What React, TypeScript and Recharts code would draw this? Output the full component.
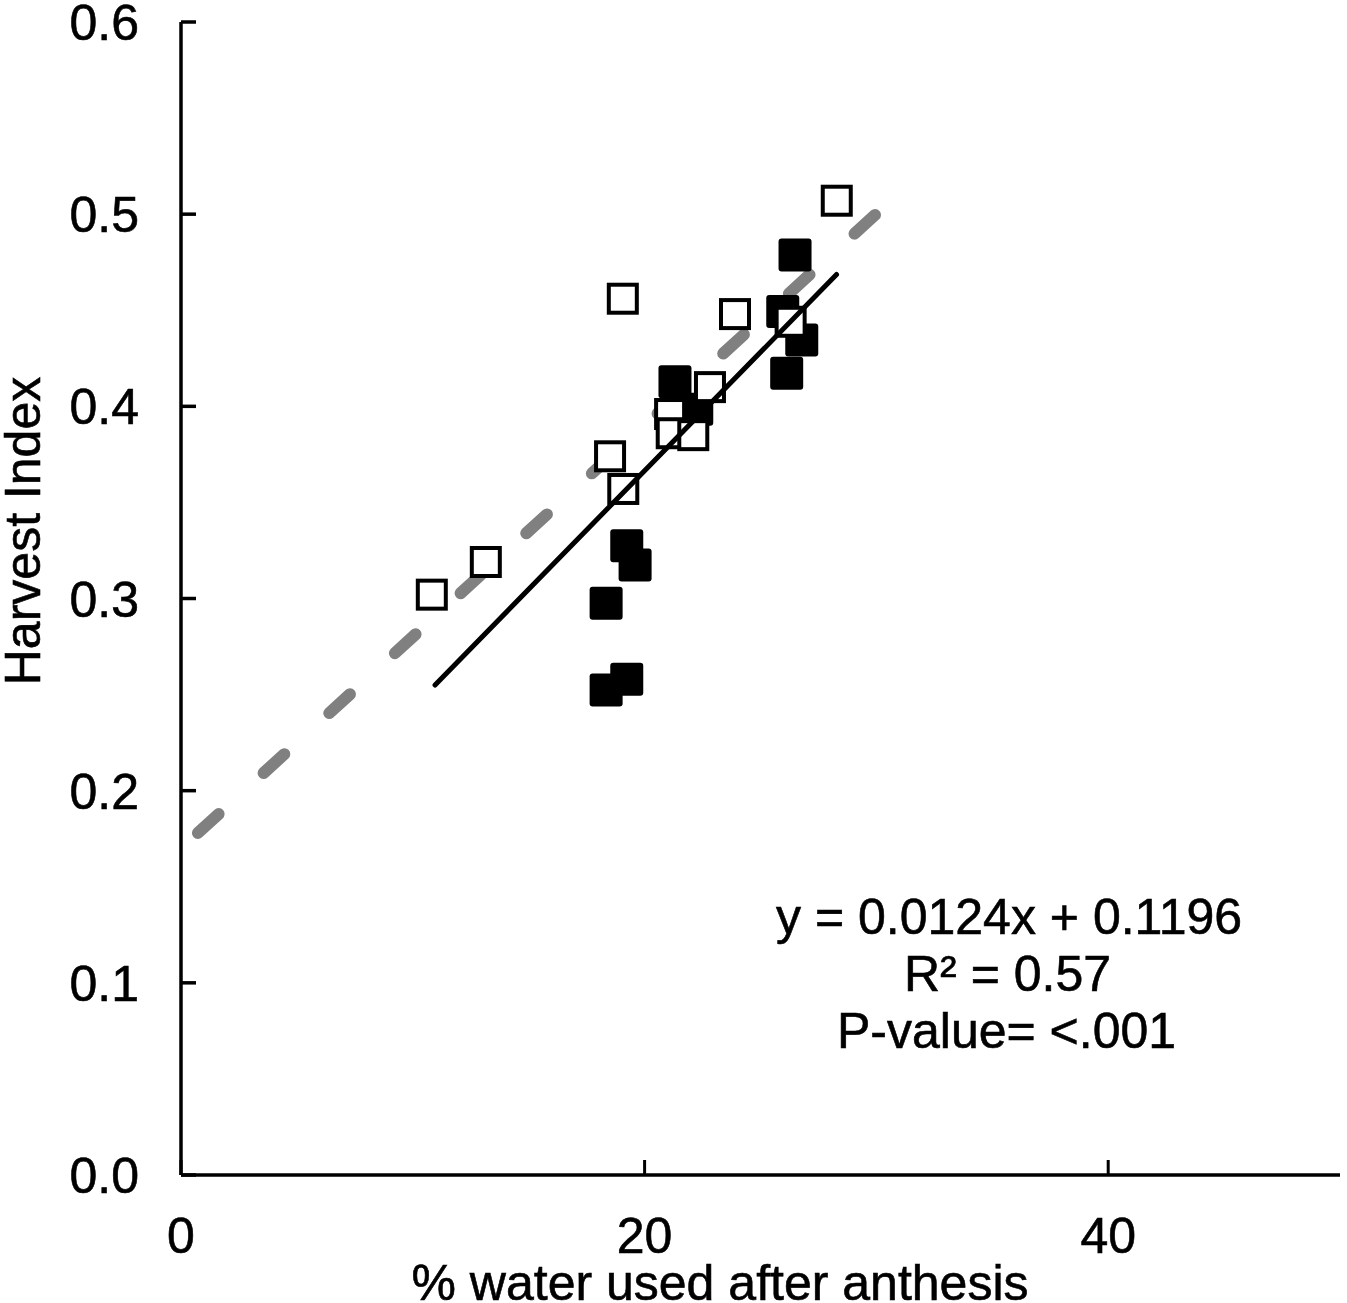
import React from 'react';
import { Scatter, ScatterChart, XAxis, YAxis } from 'recharts';

// open squares
const openPoints = [
  { x: 10.82, y: 0.302 },
  { x: 13.15, y: 0.319 },
  { x: 18.51, y: 0.374 },
  { x: 19.08, y: 0.357 },
  { x: 19.06, y: 0.456 },
  { x: 21.1, y: 0.396 },
  { x: 21.17, y: 0.386 },
  { x: 22.1, y: 0.385 },
  { x: 22.82, y: 0.41 },
  { x: 23.9, y: 0.448 },
  { x: 26.3, y: 0.444 },
  { x: 28.29, y: 0.507 },
];

// filled squares
const filledPoints = [
  { x: 18.34, y: 0.2524 },
  { x: 18.34, y: 0.2975 },
  { x: 19.23, y: 0.258 },
  { x: 19.23, y: 0.3275 },
  { x: 19.59, y: 0.3174 },
  { x: 21.31, y: 0.4128 },
  { x: 22.25, y: 0.3985 },
  { x: 25.96, y: 0.4493 },
  { x: 26.13, y: 0.4172 },
  { x: 26.49, y: 0.4787 },
  { x: 26.78, y: 0.4345 },
];

// fitted lines, end points
const blackFit = [
  { x: 10.96, y: 0.255 },
  { x: 28.28, y: 0.4686 },
];
const grayFit = [
  { x: 0.73, y: 0.178 },
  { x: 29.94, y: 0.4996 },
];

const xTicks = [0, 20, 40];
const yTicks = [0, 0.1, 0.2, 0.3, 0.4, 0.5, 0.6];

const annotation = ['y = 0.0124x + 0.1196', 'R² = 0.57', 'P-value= <.001'];

const font = '"Liberation Sans", Arial, sans-serif';
const textStyle = { stroke: '#000', strokeWidth: 0.6 };

const YTick = (props: any) => {
  const { x, y, payload } = props;
  return (
    <g>
      <line x1={x} x2={x + 15} y1={y} y2={y} stroke="#000" strokeWidth={3.5} />
      <text x={x - 42} y={y + 18} textAnchor="end" fontSize={50} fontFamily={font} fill="#000" style={textStyle}>
        {Number(payload.value).toFixed(1)}
      </text>
    </g>
  );
};

const XTick = (props: any) => {
  const { x, y, payload } = props;
  return (
    <g>
      <line x1={x} x2={x} y1={y} y2={y - 15} stroke="#000" strokeWidth={3} />
      <text x={x} y={y + 78} textAnchor="middle" fontSize={50} fontFamily={font} fill="#000" style={textStyle}>
        {payload.value}
      </text>
    </g>
  );
};

const OpenSquare = (props: any) => (
  <rect
    x={props.cx - 14}
    y={props.cy - 14}
    width={28}
    height={28}
    fill="#fff"
    stroke="#000"
    strokeWidth={4}
  />
);

const FilledSquare = (props: any) => (
  <rect x={props.cx - 16.5} y={props.cy - 16.5} width={33} height={33} rx={3} fill="#000" />
);

const NoShape = () => <g />;

const App = () => (
  <div style={{ position: 'absolute', left: 0, top: 0, width: 1347, height: 1303 }}>
    <ScatterChart
      width={1347}
      height={1303}
      margin={{ top: 22, right: 7, left: 61, bottom: 28 }}
    >
      <XAxis
        type="number"
        dataKey="x"
        domain={[0, 50]}
        ticks={xTicks}
        height={100}
        tickSize={0}
        tickMargin={0}
        tick={<XTick />}
        axisLine={{ stroke: '#000', strokeWidth: 3.5 }}
        tickLine={false}
        label={{
          content: () => (
            <text x={720} y={1300} textAnchor="middle" fontSize={50} fontFamily={font} fill="#000" style={textStyle}>
              % water used after anthesis
            </text>
          ),
        }}
      />
      <YAxis
        type="number"
        dataKey="y"
        domain={[0, 0.6]}
        ticks={yTicks}
        width={120}
        tickSize={0}
        tickMargin={0}
        tick={<YTick />}
        axisLine={{ stroke: '#000', strokeWidth: 3.5 }}
        tickLine={false}
        label={{
          content: () => (
            <text
              transform="translate(40,531) rotate(-90)"
              textAnchor="middle"
              fontSize={50}
              fontFamily={font}
              fill="#000"
              style={textStyle}
            >
              Harvest Index
            </text>
          ),
        }}
      />
      <Scatter
        data={grayFit}
        shape={<NoShape />}
        line={{
          stroke: '#808080',
          strokeWidth: 12,
          strokeDasharray: '28 60.9',
          strokeLinecap: 'round',
        }}
        isAnimationActive={false}
      />
      <Scatter data={filledPoints} shape={<FilledSquare />} isAnimationActive={false} />
      <Scatter data={openPoints} shape={<OpenSquare />} isAnimationActive={false} />
      <Scatter
        data={blackFit}
        shape={<NoShape />}
        line={{ stroke: '#000', strokeWidth: 5, strokeLinecap: 'round' }}
        isAnimationActive={false}
      />
    </ScatterChart>
    <svg
      width={1347}
      height={1303}
      style={{ position: 'absolute', left: 0, top: 0, pointerEvents: 'none' }}
    >
      <text x={776} y={934} fontSize={50} fontFamily={font} fill="#000" style={textStyle}>
        {annotation[0]}
      </text>
      <text x={904} y={991} fontSize={50} fontFamily={font} fill="#000" style={textStyle}>
        {annotation[1]}
      </text>
      <text x={837} y={1048} fontSize={50} fontFamily={font} fill="#000" style={textStyle}>
        {annotation[2]}
      </text>
    </svg>
  </div>
);

export default App;
